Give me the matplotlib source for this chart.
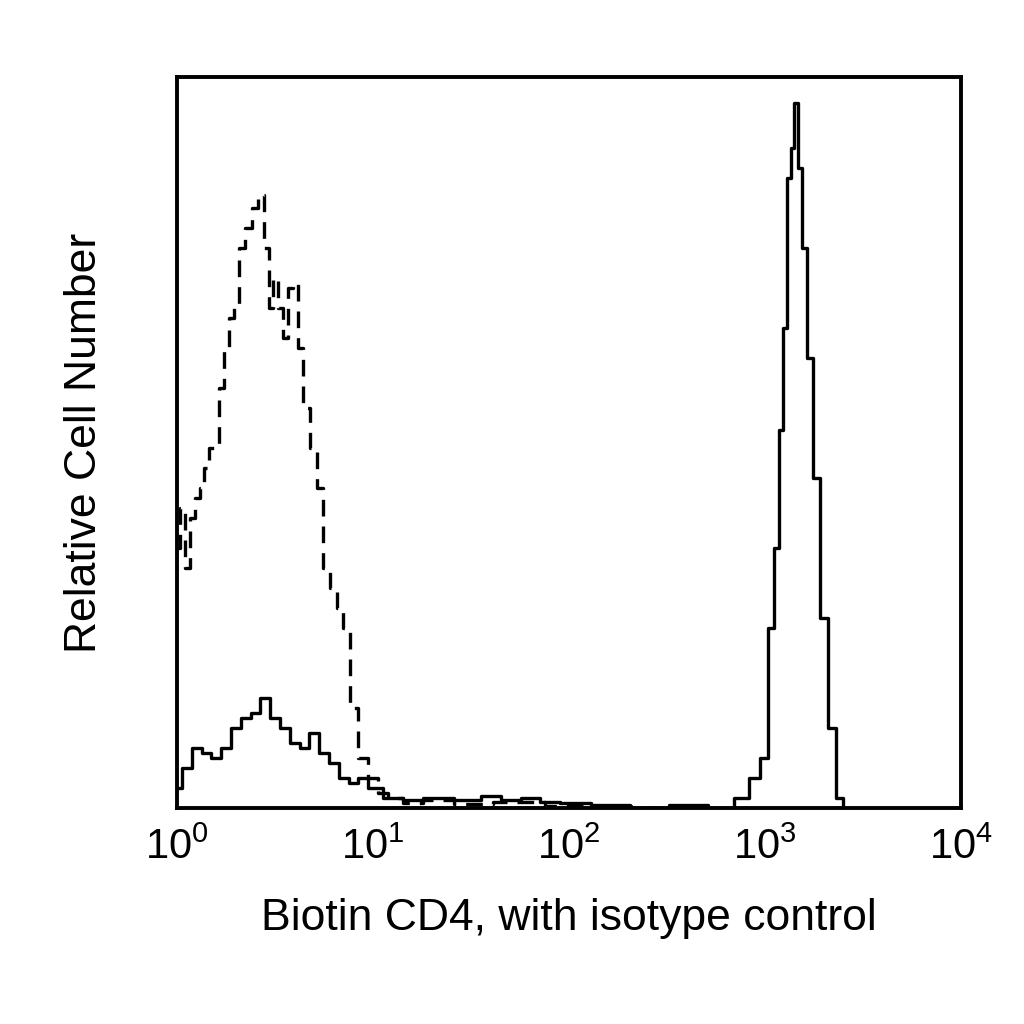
import numpy as np
import matplotlib
matplotlib.use("Agg")
import matplotlib.pyplot as plt

plt.rcParams["font.family"] = ["Liberation Sans", "DejaVu Sans"]

# histogram bins in decades (log10 of fluorescence) and relative counts
iso_log = [0.00, 0.03, 0.05, 0.08, 0.10, 0.13, 0.15, 0.18, 0.20, 0.23, 0.25, 0.28,
           0.30, 0.33, 0.36, 0.40, 0.43, 0.46, 0.48, 0.50, 0.53, 0.55, 0.58, 0.60,
           0.63, 0.66, 0.70, 0.73, 0.76, 0.80, 0.83, 0.86, 0.90, 0.95, 1.00, 1.05,
           1.10, 1.20, 1.30, 1.50, 1.70, 2.00, 2.50]
iso_cnt = [260, 300, 240, 290, 310, 320, 340, 360, 360, 420, 460, 490,
           500, 560, 580, 600, 613, 560, 500, 530, 500, 470, 520, 525,
           460, 400, 360, 320, 240, 220, 200, 180, 100, 50, 30, 15,
           10, 5, 8, 4, 6, 2, 0]

cd4_log = [0.00, 0.05, 0.10, 0.15, 0.20, 0.25, 0.30, 0.35, 0.40, 0.45, 0.50, 0.55,
           0.60, 0.65, 0.70, 0.75, 0.80, 0.85, 0.90, 0.95, 1.00, 1.10, 1.20, 1.30,
           1.50, 1.60, 1.70, 1.80, 1.90, 2.00, 2.20, 2.40, 2.60, 2.80, 2.88, 2.95,
           3.00, 3.03, 3.06, 3.08, 3.10, 3.12, 3.14, 3.16, 3.18, 3.20, 3.23, 3.26,
           3.30, 3.34, 3.38, 3.42]
cd4_cnt = [20, 40, 60, 55, 50, 60, 80, 90, 95, 110, 90, 80,
           65, 60, 75, 55, 45, 30, 25, 30, 20, 10, 8, 10,
           8, 12, 8, 10, 6, 5, 3, 0, 3, 0, 10, 30,
           50, 180, 260, 378, 480, 630, 660, 705, 640, 560, 450, 330,
           190, 80, 10, 0]

fig = plt.figure(figsize=(10.24, 10.24), dpi=100)
ax = fig.add_axes([177 / 1024, 1 - 808 / 1024, 784 / 1024, 731 / 1024])

ax.step(10 ** np.array(iso_log), iso_cnt, where="mid", color="black",
        lw=2.4, linestyle=(0, (5, 3)))
ax.step(10 ** np.array(cd4_log), cd4_cnt, where="mid", color="black", lw=2.4)

ax.set_xscale("log")
ax.set_xlim(1, 1e4)
ax.set_ylim(0, 731)
ax.set_yticks([])
ax.set_xticks([1, 10, 100, 1000, 10000])
ax.minorticks_off()
ax.tick_params(axis="x", length=0, labelsize=30, pad=14)
for s in ax.spines.values():
    s.set_linewidth(2.8)
ax.set_xlabel("Biotin CD4, with isotype control", fontsize=32, labelpad=22)
ax.set_ylabel("Relative Cell Number", fontsize=32, labelpad=52)

fig.savefig("out.png", dpi=100)
